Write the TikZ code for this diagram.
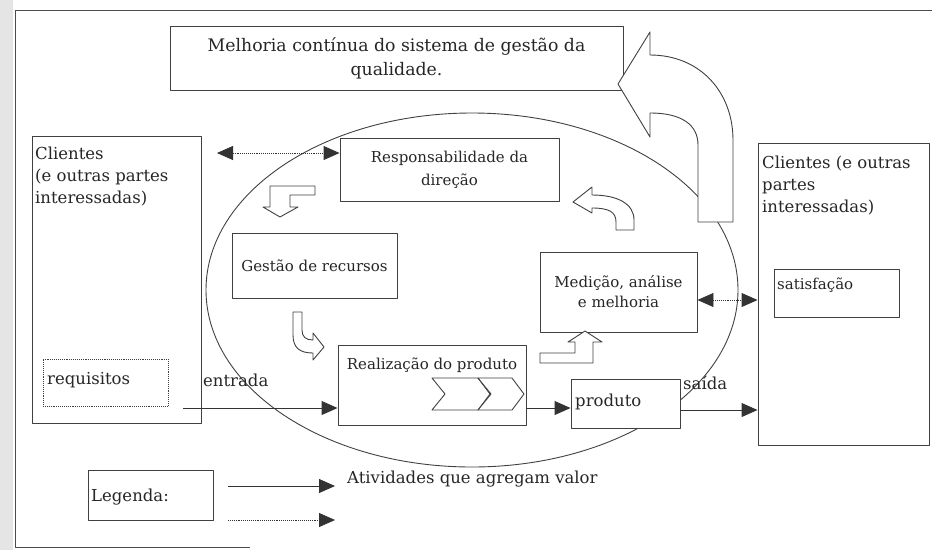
\documentclass[tikz,border=0pt]{standalone}
\usepackage{fontspec}
\setmainfont{DejaVu Serif}
\usepackage{tikz}
\usetikzlibrary{positioning, arrows.meta}

\begin{document}
\begin{tikzpicture}[x=1pt, y=-1pt, line join=round]
	\tikzstyle{every node}=[font=\fontsize{16.5}{22}\selectfont, text=black!85]
	\tikzstyle{box}=[draw=black!75, fill=white, line width=0.9pt, inner sep=0pt]
	\tikzstyle{blockarrow}=[draw=black!75, fill=white, line width=0.9pt]
	\tikzstyle{flow}=[draw=black!80, line width=0.9pt, -{Triangle[length=16pt, width=14pt]}]
	\tikzstyle{feedback}=[draw=black!80, line width=0.9pt, densely dotted,
		{Triangle[length=16pt, width=14pt]}-{Triangle[length=16pt, width=14pt]}]
	\useasboundingbox (0,0) rectangle (932,550);

	% scan edge and frame
	\fill[black!10] (0,0) rectangle (13,550);
	\draw[black!70, line width=1pt] (932,10) -- (15,10) -- (15,547) -- (250,547);

	% process ellipse
	\draw[black!75, line width=0.9pt] (472,290) ellipse [x radius=266, y radius=177];

	\node[box, minimum width=453pt, minimum height=64pt, align=center, font=\fontsize{17.3}{24}\selectfont] (melhoria) at (396.5,58)
		{Melhoria contínua do sistema de gestão da\\qualidade.};

	% big loop arrow
	\draw[blockarrow] (733,222) -- (733,140) .. controls (733,92) and (700,55) .. (650,55) -- (650,32) -- (618,84)
		-- (650,137) -- (650,113) .. controls (682,113) and (698,125) .. (698,145) -- (698,222) -- cycle;

	% clients (input side)
	\node[box, minimum width=169pt, minimum height=287pt] (cliL) at (116.5,279.5) {};
	\node[anchor=north west, align=left, inner sep=0pt] (cliLText) at (35,147) {Clientes\\(e outras partes\\interessadas)};
	\node[box, densely dotted, minimum width=125pt, minimum height=47pt] (requisitos) at (105.5,382.5) {};
	\node[anchor=base west, inner sep=0pt] (requisitosText) at (47,384) {requisitos};

	% processes
	\node[box, minimum width=219pt, minimum height=63pt, align=center, font=\fontsize{15}{23}\selectfont] (resp) at (449.5,169.5)
		{Responsabilidade da\\direção};
	\node[box, minimum width=165pt, minimum height=65pt, font=\fontsize{15}{23}\selectfont] (gestao) at (314.5,265.5) {Gestão de recursos};
	\node[box, minimum width=188pt, minimum height=80pt] (realiz) at (432,385) {};
	\node[anchor=base, inner sep=0pt, font=\fontsize{15}{23}\selectfont] (realizText) at (432,369) {Realização do produto};
	\foreach \a/\b in {432/478, 478/512}
		\draw[blockarrow] (\a,378) -- (\b,378) -- (\b+12,394) -- (\b,410) -- (\a,410) -- (\a+13,394) -- cycle;
	\node[box, minimum width=157pt, minimum height=80pt, align=center, font=\fontsize{15}{20}\selectfont] (medicao) at (618.5,292)
		{Medição, análise\\e melhoria};
	\node[box, minimum width=109pt, minimum height=49pt] (produto) at (625.5,403.5) {};
	\node[anchor=base west, inner sep=0pt] (produtoText) at (575,406) {produto};

	% clients (output side)
	\node[box, minimum width=171pt, minimum height=302pt] (cliR) at (843.5,294) {};
	\node[anchor=north west, align=left, inner sep=0pt] (cliRText) at (762,156) {Clientes (e outras\\partes\\interessadas)};
	\node[box, minimum width=125pt, minimum height=48pt] (satisf) at (836.5,293) {};
	\node[anchor=base west, inner sep=0pt, font=\fontsize{15}{20}\selectfont] (satisfText) at (777,289) {satisfação};

	% block arrows between processes
	\draw[blockarrow] (270,186) -- (315,186) -- (315,195) -- (290,195) -- (290,207) -- (298,207) -- (280,217)
		-- (263,207) -- (270,207) -- cycle;
	\draw[blockarrow] (293,312) -- (293,335) .. controls (293,348) and (300,353) .. (313,353) -- (313,360) -- (324,347)
		-- (313,333) -- (313,340) .. controls (306,340) and (302,337) .. (302,330) -- (302,312) -- cycle;
	\draw[blockarrow] (540,353) -- (575,353) -- (575,342) -- (568,342) -- (585,331) -- (602,342) -- (593,342)
		-- (593,363) -- (540,363) -- cycle;
	\draw[blockarrow] (634,230) -- (634,220) .. controls (634,204) and (618,195) .. (592,195) -- (592,187) -- (573,202)
		-- (592,213) -- (592,208) .. controls (609,208) and (616,212) .. (616,222) -- (616,230) -- cycle;

	% flows
	\coordinate (inStart) at (183,408);
	\coordinate (topFree) at (217,153);
	\node[anchor=base west, inner sep=0pt] (entradaLabel) at (203,386) {entrada};
	\node[anchor=base west, inner sep=0pt] (saidaLabel) at (683,389) {saída};
	\draw[flow] (inStart) -- (inStart -| realiz.west);
	\draw[flow] (realiz.east |- inStart) -- (produto.west |- inStart);
	\draw[flow] (produto.east |- 0,410) -- (cliR.west |- 0,410);
	\draw[feedback] (topFree) -- (resp.west |- topFree);
	\draw[feedback] (medicao.east |- 0,300) -- (cliR.west |- 0,300);

	% legend
	\node[box, minimum width=125pt, minimum height=50pt] (legenda) at (150.5,495) {};
	\node[anchor=base west, inner sep=0pt] (legendaText) at (91,501) {Legenda:};
	\coordinate (legSolid) at (228,486);
	\coordinate (legDotted) at (228,520);
	\node[anchor=base west, inner sep=0pt] (valorLabel) at (347,483) {Atividades que agregam valor};
	\draw[flow] (legSolid) -- ++(107,0);
	\draw[flow, densely dotted] (legDotted) -- ++(107,0);
\end{tikzpicture}
\end{document}
